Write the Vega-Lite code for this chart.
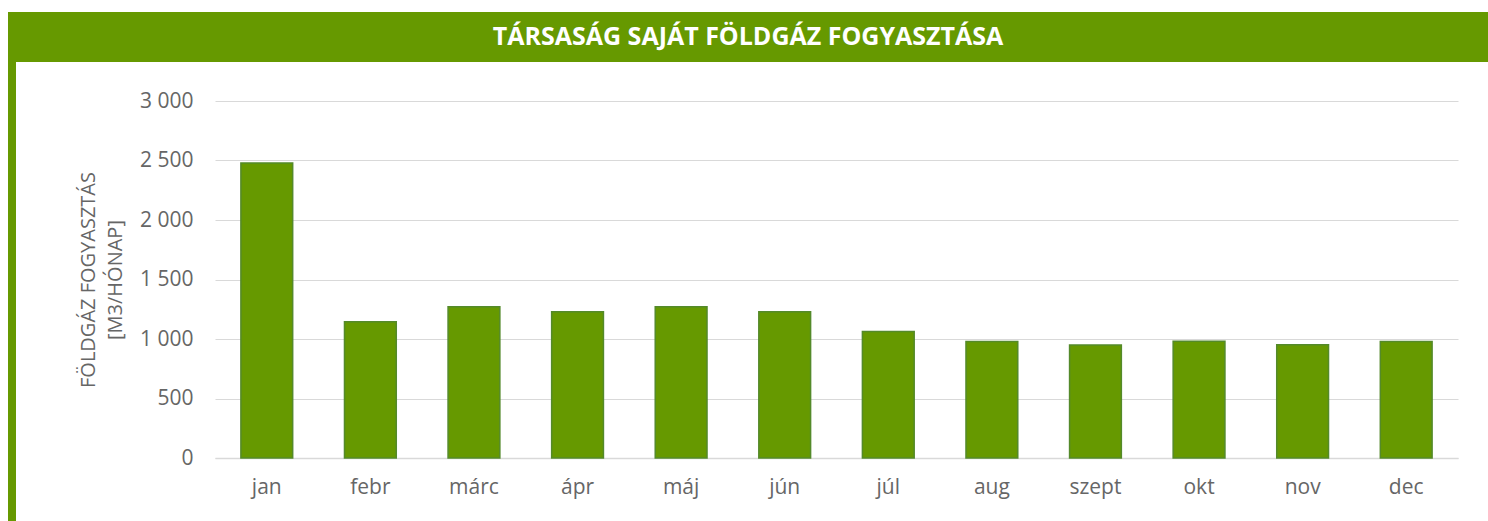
{
  "$schema": "https://vega.github.io/schema/vega-lite/v6.json",
  "padding": {"left": 8, "top": 12, "right": 0, "bottom": 0},
  "background": "white",
  "config": {"view": {"stroke": null}},
  "vconcat": [
    {
      "width": 1480,
      "height": 50,
      "view": {"fill": "#669900", "stroke": null},
      "data": {"values": [{"t": "TÁRSASÁG SAJÁT FÖLDGÁZ FOGYASZTÁSA"}]},
      "mark": {"type": "text", "font": "Open Sans", "fontWeight": "bold", "fontSize": 25, "color": "white", "align": "center", "baseline": "middle"},
      "encoding": {"text": {"field": "t"}}
    },
    {
      "hconcat": [
        {
          "width": 8,
          "height": 459,
          "view": {"fill": "#669900", "stroke": null},
          "data": {"values": []},
          "mark": "rule",
          "encoding": {}
        },
        {
          "vconcat": [
            {
              "width": 1243,
              "height": 1,
              "data": {"values": []},
              "mark": "rule",
              "encoding": {}
            },
            {
              "width": 1243,
              "height": 357,
              "data": {"values": [
                {"month": "jan", "value": 2480},
                {"month": "febr", "value": 1145},
                {"month": "márc", "value": 1270},
                {"month": "ápr", "value": 1230},
                {"month": "máj", "value": 1270},
                {"month": "jún", "value": 1230},
                {"month": "júl", "value": 1062},
                {"month": "aug", "value": 978},
                {"month": "szept", "value": 950},
                {"month": "okt", "value": 982},
                {"month": "nov", "value": 952},
                {"month": "dec", "value": 980}
              ]},
              "mark": {"type": "bar", "fill": "#669900", "stroke": "#548a2a", "strokeWidth": 1.5},
              "encoding": {
                "x": {
                  "field": "month", "type": "nominal", "sort": null,
                  "scale": {"paddingInner": 0.5, "paddingOuter": 0.25},
                  "axis": {
                    "title": null, "labelAngle": 0, "ticks": false, "grid": false,
                    "domain": true, "domainColor": "#d9d9d9", "domainWidth": 1.5,
                    "labelFont": "Open Sans", "labelFontSize": 21, "labelColor": "#666666",
                    "labelPadding": 18
                  }
                },
                "y": {
                  "field": "value", "type": "quantitative",
                  "scale": {"domain": [0, 3000], "nice": false},
                  "axis": {
                    "values": [0, 500, 1000, 1500, 2000, 2500, 3000],
                    "labelExpr": "replace(format(datum.value, ','), ',', ' ')",
                    "ticks": false, "domain": false,
                    "grid": true, "gridColor": "#d9d9d9", "gridWidth": 1,
                    "labelFont": "Open Sans", "labelFontSize": 21, "labelColor": "#666666",
                    "labelPadding": 22,
                    "title": ["FÖLDGÁZ FOGYASZTÁS", "[M3/HÓNAP]"],
                    "titleFont": "Open Sans", "titleFontSize": 20, "titleFontWeight": "normal",
                    "titleColor": "#666666", "titleLineHeight": 27, "titlePadding": 14
                  }
                }
              }
            }
          ],
          "spacing": 38,
          "bounds": "flush"
        }
      ],
      "spacing": 199,
      "bounds": "flush"
    }
  ],
  "spacing": 0,
  "bounds": "flush"
}
